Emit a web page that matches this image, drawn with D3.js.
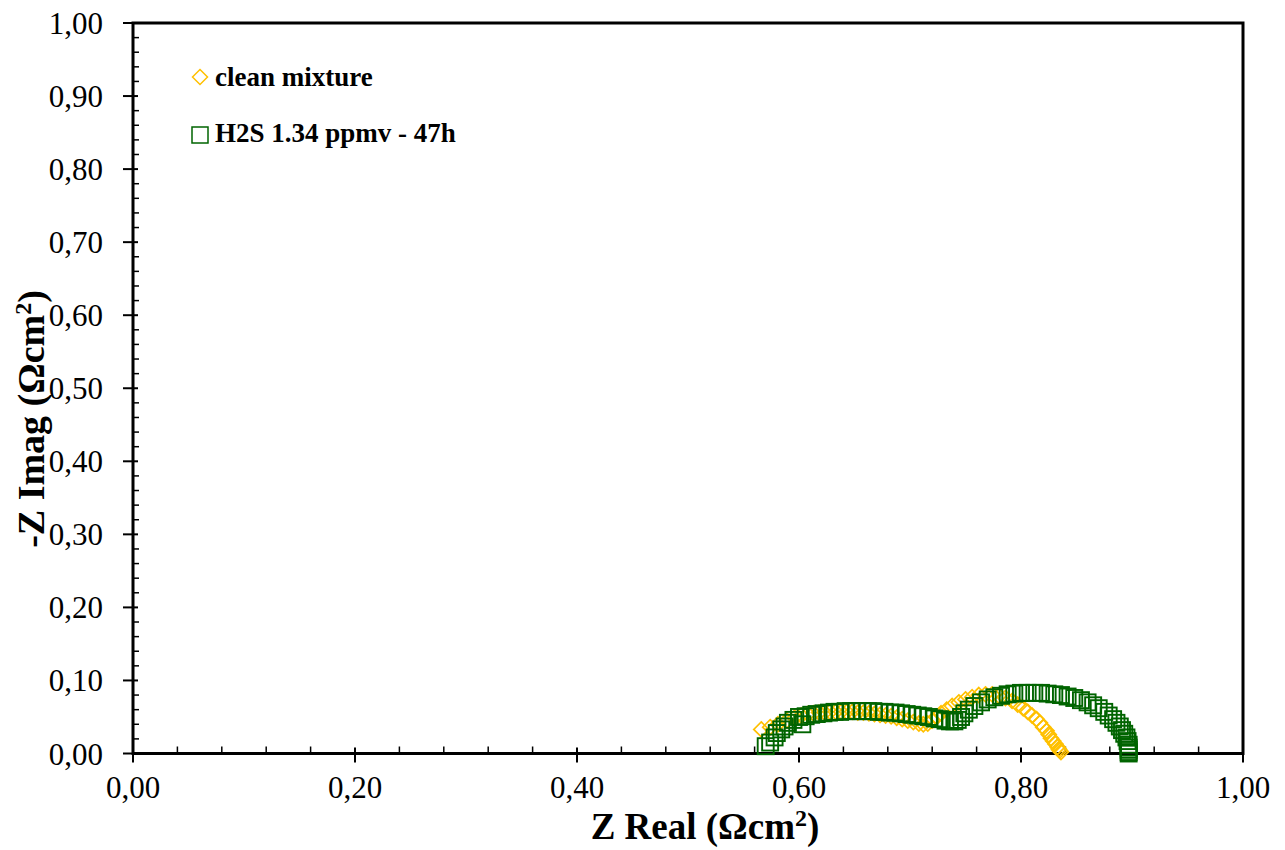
<!DOCTYPE html>
<html>
<head>
<meta charset="utf-8">
<script src="https://cdn.jsdelivr.net/npm/d3@7"></script>
<style>
  html, body { margin: 0; padding: 0; background: #fff; }
  svg { display: block; }
  text { font-family: "Liberation Serif", "Times New Roman", serif; }
</style>
</head>
<body>
<script>
// ---- data ----
const xTicks = [0, 0.2, 0.4, 0.6, 0.8, 1.0];
const yTicks = [0, 0.1, 0.2, 0.3, 0.4, 0.5, 0.6, 0.7, 0.8, 0.9, 1.0];

const cleanReal = [0.566,0.574,0.581,0.589,0.596,0.602,0.608,0.613,0.618,0.623,0.628,0.633,0.638,0.643,0.648,0.653,0.658,0.663,0.668,0.673,0.678,0.683,0.688,0.693,0.698,0.703,0.708,0.712,0.716,0.720,0.724,0.728,0.733,0.738,0.744,0.750,0.756,0.762,0.768,0.774,0.780,0.786,0.792,0.797,0.802,0.806,0.810,0.814,0.817,0.820,0.823,0.825,0.827,0.829,0.831,0.833,0.834,0.835,0.836];
const cleanImag = [0.033,0.036,0.040,0.045,0.049,0.052,0.054,0.055,0.056,0.056,0.057,0.057,0.057,0.057,0.057,0.056,0.056,0.055,0.054,0.053,0.052,0.051,0.049,0.047,0.045,0.043,0.041,0.040,0.041,0.045,0.050,0.055,0.060,0.065,0.070,0.074,0.077,0.080,0.081,0.081,0.079,0.076,0.072,0.067,0.062,0.057,0.052,0.047,0.042,0.036,0.031,0.026,0.021,0.017,0.013,0.009,0.006,0.004,0.002];

const h2sReal = [0.570,0.574,0.578,0.580,0.584,0.587,0.590,0.595,0.600,0.603,0.606,0.611,0.616,0.622,0.627,0.632,0.637,0.642,0.647,0.652,0.657,0.662,0.667,0.672,0.677,0.682,0.687,0.692,0.697,0.702,0.707,0.712,0.717,0.722,0.727,0.732,0.736,0.740,0.743,0.746,0.749,0.753,0.758,0.764,0.770,0.776,0.782,0.788,0.794,0.800,0.806,0.812,0.818,0.824,0.830,0.836,0.842,0.848,0.854,0.860,0.865,0.870,0.875,0.879,0.883,0.886,0.889,0.891,0.893,0.895,0.896,0.897,0.897,0.897,0.897,0.897];
const h2sImag = [0.010,0.015,0.022,0.028,0.033,0.037,0.042,0.046,0.050,0.040,0.051,0.053,0.054,0.055,0.056,0.057,0.057,0.058,0.058,0.058,0.058,0.058,0.058,0.057,0.057,0.056,0.056,0.055,0.054,0.053,0.052,0.051,0.050,0.048,0.047,0.045,0.044,0.044,0.046,0.050,0.055,0.060,0.065,0.070,0.074,0.077,0.079,0.081,0.082,0.083,0.083,0.083,0.083,0.082,0.081,0.080,0.078,0.076,0.073,0.070,0.066,0.062,0.057,0.052,0.047,0.042,0.037,0.032,0.027,0.022,0.017,0.012,0.008,0.005,0.002,0.000];

const seriesNames = ["clean mixture", "H2S 1.34 ppmv - 47h"];
const seriesColors = ["#FFC000", "#006400"];

// ---- layout ----
const W = 1285, H = 850;
const svg = d3.select("body").append("svg").attr("width", W).attr("height", H);

const x = d3.scaleLinear().domain([0, 1]).range([133, 1243]);
const y = d3.scaleLinear().domain([0, 1]).range([753.5, 23]);

const fmt = d => d3.format(".2f")(d).replace(".", ",");

// minor ticks
const xMinor = d3.range(0, 1.0001, 0.04).filter(v => Math.abs(v * 5 - Math.round(v * 5)) > 1e-6);
const yMinor = d3.range(0, 1.0001, 0.02).filter(v => Math.abs(v * 10 - Math.round(v * 10)) > 1e-6);

const g = svg.append("g");
g.selectAll(".xminor").data(xMinor).join("line")
  .attr("x1", d => x(d)).attr("x2", d => x(d))
  .attr("y1", y(0)).attr("y2", y(0) - 7)
  .attr("stroke", "#000").attr("stroke-width", 1.5);
g.selectAll(".yminor").data(yMinor).join("line")
  .attr("y1", d => y(d)).attr("y2", d => y(d))
  .attr("x1", x(0)).attr("x2", x(0) + 6)
  .attr("stroke", "#000").attr("stroke-width", 1.5);
g.selectAll(".xmajor").data(xTicks).join("line")
  .attr("x1", d => x(d)).attr("x2", d => x(d))
  .attr("y1", y(0) - 6).attr("y2", y(0) + 9)
  .attr("stroke", "#000").attr("stroke-width", 2);
g.selectAll(".ymajor").data(yTicks).join("line")
  .attr("y1", d => y(d)).attr("y2", d => y(d))
  .attr("x1", x(0) - 10).attr("x2", x(0) + 5)
  .attr("stroke", "#000").attr("stroke-width", 2);

// frame
svg.append("rect").attr("x", x(0)).attr("y", y(1))
  .attr("width", x(1) - x(0)).attr("height", y(0) - y(1))
  .attr("fill", "none").attr("stroke", "#000").attr("stroke-width", 3);

// tick labels
svg.selectAll(".xl").data(xTicks).join("text")
  .attr("x", d => x(d)).attr("y", 798)
  .attr("text-anchor", "middle").attr("font-size", 31).text(fmt);
svg.selectAll(".yl").data(yTicks).join("text")
  .attr("x", 103).attr("y", d => y(d) + 11)
  .attr("text-anchor", "end").attr("font-size", 31).text(fmt);

// axis titles
const xt = svg.append("text").attr("x", 705).attr("y", 839)
  .attr("text-anchor", "middle").attr("font-size", 37).attr("font-weight", "bold");
xt.append("tspan").text("Z Real (Ωcm");
xt.append("tspan").attr("font-size", 24).attr("dy", -13).text("2");
xt.append("tspan").attr("dy", 13).text(")");

const yt = svg.append("text").attr("transform", "translate(44,419) rotate(-90)")
  .attr("text-anchor", "middle").attr("font-size", 38).attr("font-weight", "bold");
yt.append("tspan").text("-Z Imag (Ωcm");
yt.append("tspan").attr("font-size", 24).attr("dy", -13).text("2");
yt.append("tspan").attr("dy", 13).text(")");

// data
const clean = cleanReal.map((v, i) => ({ x: v, y: cleanImag[i] }));
const h2s = h2sReal.map((v, i) => ({ x: v, y: h2sImag[i] }));

const diamond = s => `M0,${-s} L${s},0 L0,${s} L${-s},0 Z`;

svg.append("g").selectAll("path").data(clean).join("path")
  .attr("transform", d => `translate(${x(d.x)},${y(d.y)})`)
  .attr("d", diamond(7.5))
  .attr("fill", "none").attr("stroke", seriesColors[0]).attr("stroke-width", 1.7);

svg.append("g").selectAll("rect").data(h2s).join("rect")
  .attr("x", d => x(d.x) - 8).attr("y", d => y(d.y) - 8)
  .attr("width", 16).attr("height", 16)
  .attr("fill", "none").attr("stroke", seriesColors[1]).attr("stroke-width", 1.9);

// legend
const lg = svg.append("g");
lg.append("path").attr("transform", "translate(200,77)").attr("d", diamond(7.5))
  .attr("fill", "none").attr("stroke", seriesColors[0]).attr("stroke-width", 1.5);
lg.append("text").attr("x", 215).attr("y", 86).attr("font-size", 27)
  .attr("font-weight", "bold").text(seriesNames[0]);
lg.append("rect").attr("x", 192).attr("y", 127).attr("width", 16).attr("height", 16)
  .attr("fill", "none").attr("stroke", seriesColors[1]).attr("stroke-width", 1.5);
lg.append("text").attr("x", 215).attr("y", 142).attr("font-size", 27)
  .attr("font-weight", "bold").text(seriesNames[1]);
</script>
</body>
</html>
